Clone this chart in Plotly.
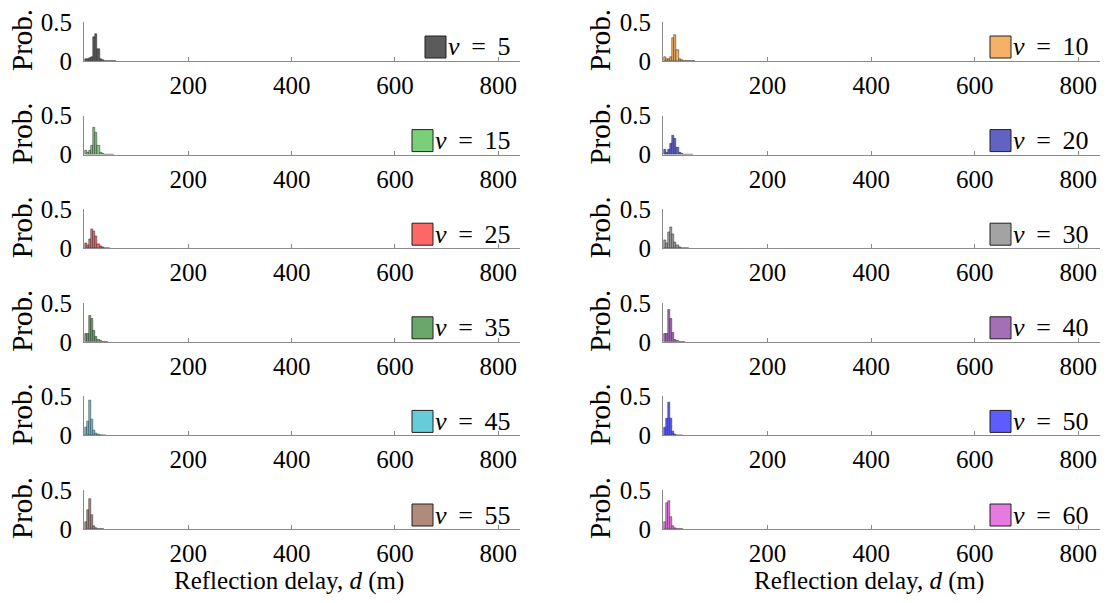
import plotly.graph_objects as go

# Shape parameter of each panel, laid out row by row (left, right)
nu_values = [5, 10, 15, 20, 25, 30, 35, 40, 45, 50, 55, 60]

# Histogram probabilities per bin (bin width BIN_W metres, from BIN_START)
prob_nu5 = [0.02, 0.02, 0.04, 0.05, 0.31, 0.34, 0.15, 0.02, 0.01, 0.004, 0.003, 0.002, 0.002, 0.001, 0.001]
prob_nu10 = [0.05, 0.02, 0.03, 0.05, 0.29, 0.33, 0.14, 0.02, 0.01, 0.004, 0.003, 0.002, 0.002, 0.001, 0.001]
prob_nu15 = [0.05, 0.02, 0.05, 0.11, 0.34, 0.28, 0.11, 0.02, 0.01, 0.004, 0.003, 0.002, 0.001, 0.001]
prob_nu20 = [0.06, 0.02, 0.06, 0.14, 0.24, 0.20, 0.09, 0.02, 0.01, 0.004, 0.003, 0.002, 0.001, 0.001]
prob_nu25 = [0.06, 0.04, 0.12, 0.25, 0.22, 0.15, 0.05, 0.02, 0.01, 0.003, 0.002, 0.001]
prob_nu30 = [0.10, 0.07, 0.20, 0.27, 0.18, 0.08, 0.04, 0.01, 0.004, 0.003, 0.002, 0.001]
prob_nu35 = [0.10, 0.10, 0.33, 0.30, 0.14, 0.07, 0.02, 0.01, 0.003, 0.002, 0.001]
prob_nu40 = [0.10, 0.10, 0.41, 0.30, 0.12, 0.03, 0.01, 0.003, 0.002, 0.001]
prob_nu45 = [0.10, 0.18, 0.45, 0.20, 0.06, 0.02, 0.01, 0.003, 0.002, 0.001]
prob_nu50 = [0.10, 0.22, 0.42, 0.22, 0.05, 0.01, 0.004, 0.002, 0.001]
prob_nu55 = [0.09, 0.24, 0.38, 0.18, 0.04, 0.01, 0.003, 0.002, 0.001]
prob_nu60 = [0.09, 0.33, 0.36, 0.16, 0.04, 0.01, 0.003, 0.002, 0.001]

probs = [prob_nu5, prob_nu10, prob_nu15, prob_nu20, prob_nu25, prob_nu30,
         prob_nu35, prob_nu40, prob_nu45, prob_nu50, prob_nu55, prob_nu60]

face_colors = ["#5b5b5b", "#f5b266", "#7bcf7b", "#6262c2", "#ff6666", "#a3a3a3",
               "#6aa86a", "#a56fb5", "#66ccd9", "#5c5cff", "#b08b7b", "#e67ae0"]

x_ticks = [200, 400, 600, 800]
y_ticks = [0, 0.5]
y_ticktext = ["0", "0.5"]

BIN_W = 4.0
BIN_START = 0.0
X_RANGE = [-2, 842]
Y_RANGE = [0, 0.5]

W, H = 1115, 603
FONT = "Liberation Serif"
AX_GRAY = "#8a8a8a"
TICK_SIZE = 25
LEGEND_SIZE = 26


def px_x(p):
    return p / W


def px_y(p):
    return 1 - p / H


col_px = [(84, 520), (663, 1100)]
legend_right = [513, 1091]      # right edge of legend text in each column
row_bottom0, row_pitch, row_h = 61, 93.6, 39

fig = go.Figure()
layout = dict(
    width=W, height=H, margin=dict(l=0, r=0, t=0, b=0, pad=0, autoexpand=False),
    paper_bgcolor="white", plot_bgcolor="white",
    showlegend=False, bargap=0,
    font=dict(family=FONT, size=TICK_SIZE, color="black"),
)
annotations = []
shapes = []

for i, (nu, p, col) in enumerate(zip(nu_values, probs, face_colors)):
    r, c = divmod(i, 2)
    k = i + 1
    xa = "x" if k == 1 else f"x{k}"
    ya = "y" if k == 1 else f"y{k}"
    centers = [BIN_START + BIN_W * (j + 0.5) for j in range(len(p))]
    fig.add_trace(go.Bar(
        x=centers, y=p, width=BIN_W, xaxis=xa, yaxis=ya,
        marker=dict(color=col, line=dict(color="#262626", width=0.5)),
    ))

    bottom = row_bottom0 + row_pitch * r
    top = bottom - row_h
    x0, x1 = col_px[c]
    layout["xaxis" if k == 1 else f"xaxis{k}"] = dict(
        domain=[px_x(x0), px_x(x1)], range=X_RANGE, automargin=False,
        anchor=ya, tickvals=x_ticks, ticks="inside", ticklen=4,
        tickcolor=AX_GRAY, showline=True, linecolor=AX_GRAY, linewidth=1,
        showgrid=False, zeroline=False, ticklabelstandoff=2,
        tickfont=dict(family=FONT, size=TICK_SIZE),
    )
    layout["yaxis" if k == 1 else f"yaxis{k}"] = dict(
        domain=[px_y(bottom), px_y(top)], range=Y_RANGE, automargin=False,
        anchor=xa, tickvals=y_ticks, ticktext=y_ticktext, ticks="inside",
        ticklen=4, tickcolor=AX_GRAY, showline=True, linecolor=AX_GRAY,
        linewidth=1, showgrid=False, zeroline=False, ticklabelstandoff=6,
        tickfont=dict(family=FONT, size=TICK_SIZE),
    )

    # "Prob." label beside each panel
    annotations.append(dict(
        x=px_x(22 if c == 0 else 600), y=px_y(bottom - 21), xref="paper", yref="paper",
        text="Prob.", textangle=-90, showarrow=False,
        font=dict(family=FONT, size=29), xanchor="center", yanchor="middle",
    ))

    # legend entry (right-aligned): label, with the swatch just left of it
    text_right = legend_right[c]
    text_w = 51 + 13 * len(str(nu))
    sq_x1 = text_right - text_w - 3
    shapes.append(dict(
        type="rect", xref="paper", yref="paper",
        x0=px_x(sq_x1 - 21), x1=px_x(sq_x1),
        y0=px_y(bottom - 3), y1=px_y(bottom - 25),
        fillcolor=col, line=dict(color="#202020", width=1),
    ))
    annotations.append(dict(
        x=px_x(text_right), y=px_y(bottom - 14), xref="paper", yref="paper",
        text=f"<i>ν</i> \u2009= \u2009{nu}", showarrow=False, xanchor="right", yanchor="middle",
        font=dict(family=FONT, size=LEGEND_SIZE),
    ))

for c in range(2):
    x0, x1 = col_px[c]
    annotations.append(dict(
        x=px_x((x0 + x1) / 2 - 13), y=px_y(581),
        xref="paper", yref="paper",
        text="Reflection delay, <i>d</i> (m)", showarrow=False,
        xanchor="center", yanchor="middle", font=dict(family=FONT, size=25),
    ))

layout["annotations"] = annotations
layout["shapes"] = shapes
fig.update_layout(**layout)
fig.write_html("out.html")
